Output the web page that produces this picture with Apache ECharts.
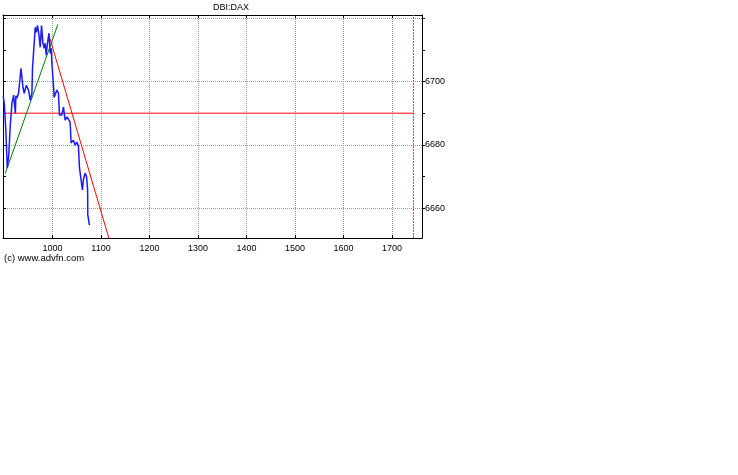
<!DOCTYPE html>
<html>
<head>
<meta charset="utf-8">
<script src="https://cdn.jsdelivr.net/npm/echarts@6/dist/echarts.min.js"></script>
<style>
html,body{margin:0;padding:0;background:#fff;}
#c{width:738px;height:475px;}
</style>
</head>
<body>
<div id="c"></div>
<script>
// ---- data ----
const priceX = [898.6,900.7,903.8,906.8,909.9,913,916.5,919.8,923.3,923.5,924.5,926.4,930.1,935,939.1,941.8,945.9,950.6,954.1,957.6,958.9,960.9,964.4,966.5,969.1,972.6,974.7,977.4,980.3,982.9,985,987,989.7,992.6,993.8,995.3,997.3,998.8,1002,1003.5,1009,1012.3,1014.4,1019.3,1022.6,1026.1,1029.6,1032.9,1036.4,1038.4,1043.2,1046.7,1050.2,1053.5,1055.5,1058.4,1061.7,1063.7,1067.2,1070.3,1072.4,1072.8,1074,1076.1];
const priceY = [6695.4,6692.9,6684.7,6672.7,6676.8,6686.2,6693.2,6695.7,6696.3,6690,6695.5,6694.7,6696.3,6704.2,6698.2,6696.3,6698.8,6697.3,6694.1,6696.3,6704.5,6708.9,6717.1,6715.5,6717.7,6714,6710.8,6717.7,6712.1,6710.5,6712.1,6708.3,6712.1,6715.2,6712.4,6708.9,6710.5,6705.8,6698.8,6695,6697.3,6696.3,6689.4,6689.4,6691.9,6687.8,6688.8,6688.4,6687.2,6680.6,6681.5,6679.9,6680.9,6679.6,6673,6669.5,6665.8,6668.9,6671.1,6669.9,6665.8,6657.9,6658.5,6654.7];
const upTrendX = [902.7, 1011];
const upTrendY = [6671, 6718];
const downTrendX = [991.8, 1120];
const downTrendY = [6715.1, 6648.6];
const levelX = [898, 1746];
const levelY = [6690, 6690];
const xTickValues = [1000,1100,1200,1300,1400,1500,1600,1700];
const yMinorTicks = [6660,6670,6680,6690,6700,6710,6720];
const yGridValues = [6660,6680,6700,6720];
const yLabelValues = [6660,6680,6700];
const cursorX = 1744;
const titleText = 'DBI:DAX';
const creditText = '(c) www.advfn.com';

const zip = (a,b) => a.map((v,i)=>[v,b[i]]);
const X_MIN = 898, X_MAX = 1761.7, Y_MIN = 6650.6, Y_MAX = 6721;
const FONT = 'Liberation Sans, Arial, sans-serif';
const gridColor = '#8e9c9c';
const plain = v => String(v);

const chart = echarts.init(document.getElementById('c'), null, {renderer:'canvas'});
chart.setOption({
  animation:false,
  backgroundColor:'#ffffff',
  grid:{left:3, top:15, right:316, bottom:237, containLabel:false},
  xAxis:[
    {type:'value', position:'bottom', min:X_MIN, max:X_MAX,
     axisLine:{show:true, onZero:false, lineStyle:{color:'#000', width:1}},
     axisTick:{show:true, inside:true, length:3, customValues:xTickValues, lineStyle:{color:'#000'}},
     axisLabel:{show:true, customValues:xTickValues, formatter:plain, margin:6, color:'#000', fontSize:9, fontFamily:FONT},
     splitLine:{show:true, lineStyle:{color:gridColor, type:[1,1], width:1}}},
    {type:'value', position:'top', min:X_MIN, max:X_MAX,
     axisLine:{show:true, onZero:false, lineStyle:{color:'#000', width:1}},
     axisTick:{show:true, inside:true, length:3, customValues:xTickValues, lineStyle:{color:'#000'}},
     axisLabel:{show:false}, splitLine:{show:false}}
  ],
  yAxis:[
    {type:'value', position:'right', min:Y_MIN, max:Y_MAX,
     axisLine:{show:true, onZero:false, lineStyle:{color:'#000', width:1}},
     axisTick:{show:true, inside:false, length:3, customValues:yMinorTicks, lineStyle:{color:'#000'}},
     axisLabel:{show:true, customValues:yLabelValues, formatter:plain, margin:3, color:'#000', fontSize:9, fontFamily:FONT},
     splitLine:{show:false}},
    {type:'value', position:'left', min:Y_MIN, max:Y_MAX,
     axisLine:{show:true, onZero:false, lineStyle:{color:'#000', width:1}},
     axisTick:{show:true, inside:true, length:3, customValues:yMinorTicks, lineStyle:{color:'#000'}},
     axisLabel:{show:false}, splitLine:{show:false}},
    {type:'value', position:'left', offset:0, min:Y_MIN, max:Y_MAX,
     axisLine:{show:false}, axisTick:{show:false, customValues:yGridValues},
     axisLabel:{show:false},
     splitLine:{show:true, lineStyle:{color:gridColor, type:[1,1], width:1}}}
  ],
  graphic:[
    {type:'text', left:213, top:3, style:{text:titleText, fill:'#000', font:'9px '+FONT}},
    {type:'text', left:4, top:253, style:{text:creditText, fill:'#000', font:'9.5px '+FONT}}
  ],
  series:[
    {type:'line', name:'level', data:zip(levelX, levelY), symbol:'none', silent:true,
     lineStyle:{color:'#ff0000', width:1}, z:2,
     markLine:{silent:true, symbol:'none', label:{show:false},
       lineStyle:{color:'#4d7f7f', type:[2,1], width:1},
       data:[{xAxis:cursorX}]}},
    {type:'line', name:'up', data:zip(upTrendX, upTrendY), symbol:'none', silent:true,
     lineStyle:{color:'#008000', width:1}, z:3},
    {type:'line', name:'down', data:zip(downTrendX, downTrendY), symbol:'none', silent:true, clip:true,
     lineStyle:{color:'#ff0000', width:1}, z:3},
    {type:'line', name:'price', data:zip(priceX, priceY), symbol:'none', silent:true,
     lineStyle:{color:'#1a1aff', width:1.5}, z:4}
  ]
});
</script>
</body>
</html>
